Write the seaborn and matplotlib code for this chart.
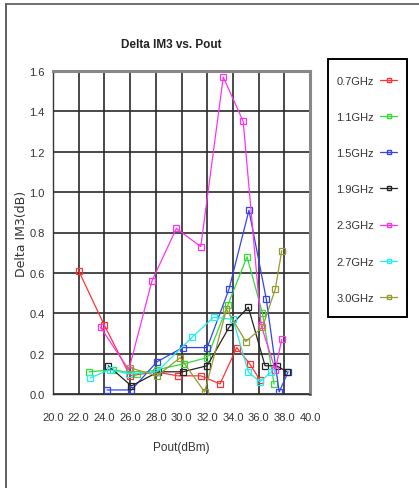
import matplotlib
matplotlib.use("Agg")
import matplotlib.pyplot as plt
import seaborn as sns
from matplotlib.ticker import MultipleLocator
from matplotlib.lines import Line2D
from matplotlib.patches import Rectangle

# data (Pout in dBm, Delta IM3 in dB)
labels = ['0.7GHz', '1.1GHz', '1.5GHz', '1.9GHz', '2.3GHz', '2.7GHz', '3.0GHz']
colors = ['#ff3333', '#33dd33', '#3344ee', '#222222', '#ff33ee', '#22eeee', '#999933']

pout_07 = [22.0, 24.0, 26.0, 28.0, 29.7, 31.5, 33.0, 34.3, 35.3, 36.1]
dim3_07 = [0.61, 0.34, 0.09, 0.11, 0.09, 0.09, 0.05, 0.23, 0.15, 0.07]

pout_11 = [22.8, 24.7, 26.5, 28.1, 30.2, 32.0, 33.6, 35.1, 36.3, 37.2]
dim3_11 = [0.11, 0.12, 0.10, 0.12, 0.15, 0.18, 0.44, 0.68, 0.40, 0.05]

pout_15 = [24.2, 26.1, 28.1, 30.1, 32.0, 33.7, 35.25, 36.6, 37.6, 38.3]
dim3_15 = [0.02, 0.02, 0.16, 0.23, 0.23, 0.52, 0.91, 0.47, 0.01, 0.11]

pout_19 = [24.3, 26.1, 28.2, 30.1, 32.0, 33.7, 35.2, 36.5, 37.4, 38.2]
dim3_19 = [0.14, 0.04, 0.11, 0.11, 0.14, 0.33, 0.43, 0.14, 0.14, 0.11]

pout_23 = [23.7, 25.9, 27.7, 29.6, 31.5, 33.25, 34.8, 36.2, 37.3, 37.8]
dim3_23 = [0.33, 0.12, 0.56, 0.82, 0.73, 1.57, 1.35, 0.34, 0.12, 0.27]

pout_27 = [22.9, 24.4, 25.9, 28.1, 30.8, 32.5, 34.0, 35.2, 36.1, 37.0]
dim3_27 = [0.08, 0.12, 0.10, 0.11, 0.28, 0.38, 0.37, 0.11, 0.06, 0.11]

pout_30 = [26.0, 28.1, 29.9, 31.8, 33.5, 35.0, 36.3, 37.3, 37.8]
dim3_30 = [0.13, 0.09, 0.18, 0.01, 0.42, 0.26, 0.33, 0.52, 0.71]

pouts = [pout_07, pout_11, pout_15, pout_19, pout_23, pout_27, pout_30]
dim3s = [dim3_07, dim3_11, dim3_15, dim3_19, dim3_23, dim3_27, dim3_30]

sns.set_style("white")
plt.rcParams['font.family'] = ['Liberation Sans', 'DejaVu Sans']

fig = plt.figure(figsize=(4.19, 4.89), dpi=100)
ax = fig.add_axes([53 / 419, 94 / 489, 257 / 419, 323 / 489])

for x, y, c, lab in zip(pouts, dim3s, colors, labels):
    sns.lineplot(x=x, y=y, ax=ax, color=c, linewidth=0.9, marker='s',
                 markersize=4.2, markerfacecolor='none', markeredgecolor=c,
                 markeredgewidth=0.9, sort=False, estimator=None, label=lab,
                 legend=False)

ax.set_xlim(20, 40)
ax.set_ylim(0, 1.6)
ax.xaxis.set_major_locator(MultipleLocator(2))
ax.xaxis.set_minor_locator(MultipleLocator(0.5))
ax.yaxis.set_major_locator(MultipleLocator(0.2))
ax.yaxis.set_minor_locator(MultipleLocator(0.05))
ax.set_xticklabels([f'{v:.1f}' for v in ax.get_xticks()])
ax.set_yticklabels([f'{v:.1f}' for v in ax.get_yticks()])
ax.tick_params(axis='both', which='major', direction='out', length=4, width=0.8,
               labelsize=8, colors='#333333', pad=2)
ax.tick_params(axis='both', which='minor', direction='out', length=2.5, width=0.7,
               colors='#333333')
ax.tick_params(axis='x', which='both', pad=9)
ax.grid(True, which='major', color='#2a2a2a', linewidth=1.2)
ax.set_axisbelow(True)
for side in ['left', 'bottom']:
    ax.spines[side].set_color('#333333')
    ax.spines[side].set_linewidth(1.0)
for side in ['top', 'right']:
    ax.spines[side].set_color('#888888')
    ax.spines[side].set_linewidth(2.2)

ax.set_title('Delta IM3 vs. Pout', fontsize=8.5, fontweight='bold', pad=17,
             color='#222222', x=(171 - 53) / 257)
ax.set_xlabel('Pout(dBm)', fontsize=8.5, color='#333333', labelpad=14)
ax.set_ylabel('Delta IM3(dB)', fontsize=9, color='#333333',
              family=['DejaVu Sans'])
ax.yaxis.set_label_coords(-25 / 257, 0.5)

# legend box drawn separately so the inner padding matches the reference
fig.add_artist(Rectangle((328 / 419, 1 - 318 / 489), 79 / 419, 258 / 489,
                         transform=fig.transFigure, facecolor='white',
                         edgecolor='black', linewidth=1.4))
handles = [Line2D([], [], color=c, linewidth=0.9, marker='s', markersize=3.5,
                  markerfacecolor='none', markeredgecolor=c)
           for c in colors]
leg = fig.legend(handles, labels, loc='upper left',
                 bbox_to_anchor=(336 / 419, 1 - 77 / 489), bbox_transform=fig.transFigure,
                 markerfirst=False, fontsize=8, labelspacing=2.35,
                 handlelength=1.5, handletextpad=0.6, borderpad=0,
                 frameon=False, borderaxespad=0)
for t in leg.get_texts():
    t.set_color('#333333')

# outer frame of the screenshot
fig.add_artist(Line2D([6 / 419, 6 / 419], [0, 1 - 5 / 489], color='#444444',
                      linewidth=1.2, transform=fig.transFigure))
fig.add_artist(Line2D([6 / 419, 1], [1 - 5 / 489, 1 - 5 / 489], color='#555555',
                      linewidth=1.2, transform=fig.transFigure))

fig.savefig('out.png', dpi=100)
